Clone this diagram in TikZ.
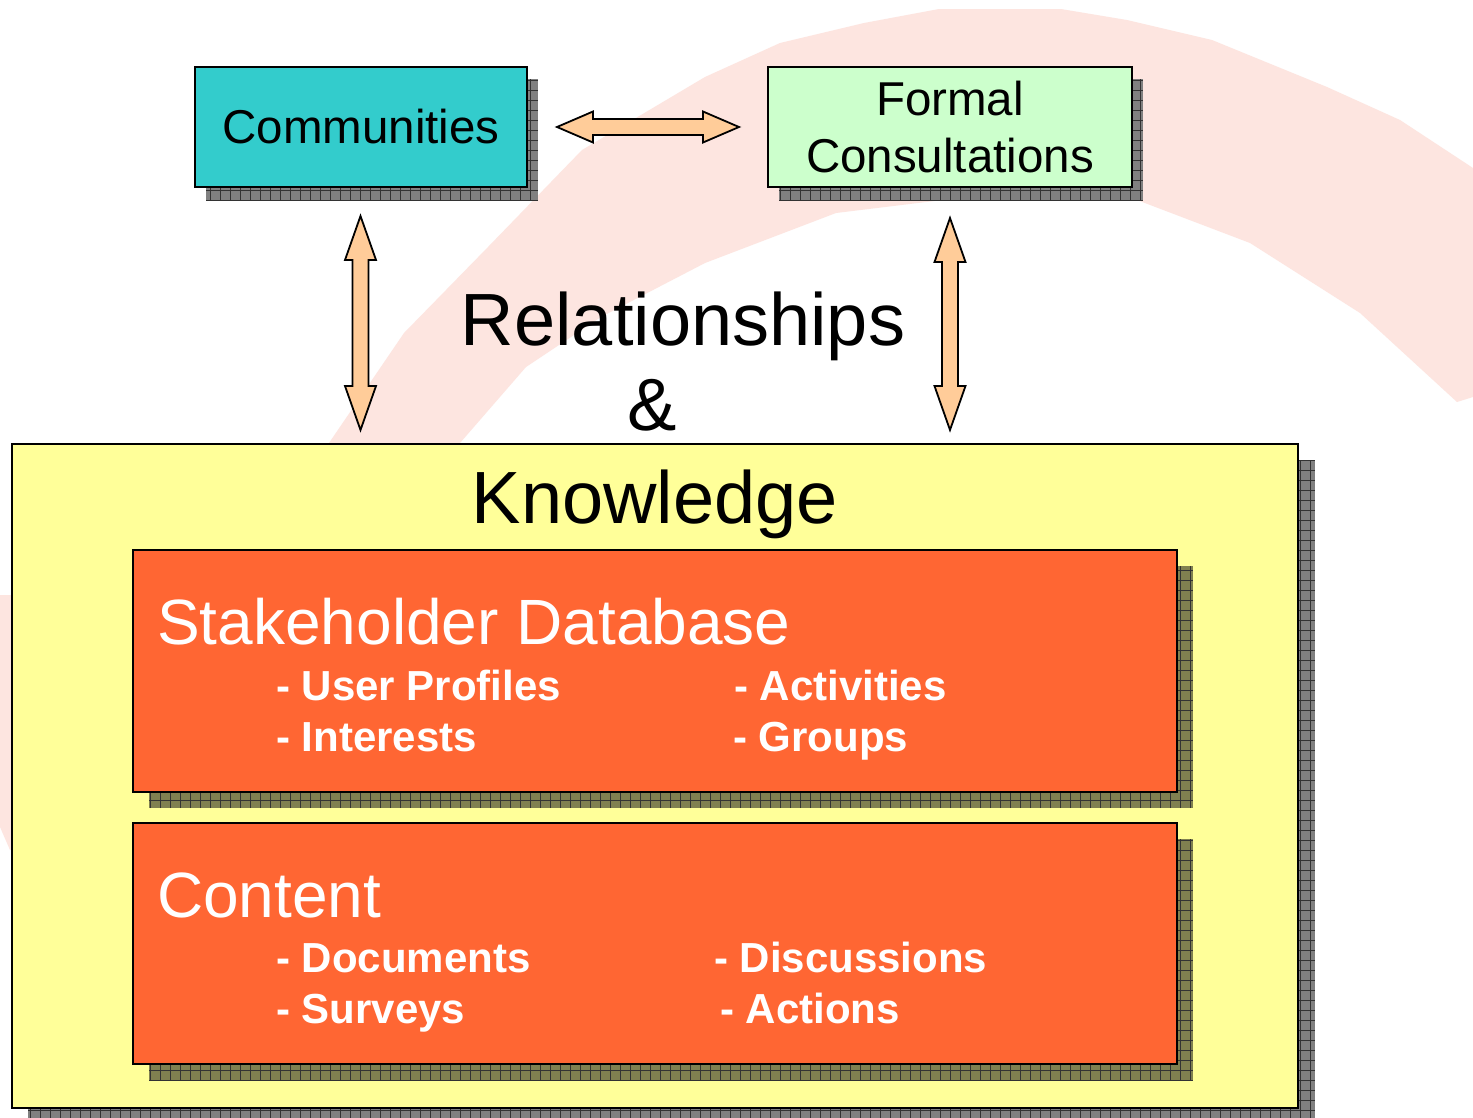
\documentclass[tikz,border=0pt]{standalone}
\usepackage{fontspec}
\setmainfont{Liberation Sans}
\definecolor{pinkband}{RGB}{253,229,224}
\definecolor{commfill}{RGB}{51,204,204}
\definecolor{formfill}{RGB}{204,255,204}
\definecolor{knowfill}{RGB}{255,255,153}
\definecolor{orangefill}{RGB}{255,102,51}
\definecolor{arrowfill}{RGB}{255,204,153}
\definecolor{shadowgray}{RGB}{128,128,128}
\definecolor{shadowolive}{RGB}{128,128,80}
\newcommand\gridshadow[5]{%
  \fill[#5] (#1,#2) rectangle (#3,#4);
  \begin{scope}
    \clip (#1,#2) rectangle (#3,#4);
    \draw[black!80, line width=0.8pt] (#1,#2) grid[step=10pt] (#3,#4);
  \end{scope}}
\begin{document}
\begin{tikzpicture}[x=1pt,y=-1pt,
  box/.style={draw=black, line width=2pt, inner sep=0pt},
  barrow/.style={draw=black, line width=1.8pt, fill=arrowfill, line join=miter},
  toptext/.style={font=\fontsize{47.5}{57}\selectfont},
  bigtext/.style={font=\fontsize{74}{80}\selectfont, inner sep=0pt},
  headtext/.style={font=\fontsize{64}{70}\selectfont, text=white, inner sep=0pt},
  itemtext/.style={font=\bfseries\fontsize{42}{50}\selectfont, text=white, inner sep=0pt}]
\useasboundingbox (0,0) rectangle (1473,1117);
\fill[white] (0,0) rectangle (1473,1117);
% background band
\fill[pinkband] (0,595) -- (200,595) -- (329,443) -- (404,333) -- (488,247) -- (582,150)
  -- (705,77) -- (780,43) -- (864,23) -- (939,9) -- (1061,9) -- (1127,20) -- (1212,40)
  -- (1327,87) -- (1400,120) -- (1473,168) -- (1473,397) -- (1457,402) -- (1360,313)
  -- (1250,243) -- (1137,200) -- (1000,193) -- (836,213) -- (705,263) -- (601,317)
  -- (526,367) -- (460,443) -- (300,700) -- (10,850) -- (0,827) -- cycle;
% top boxes
\gridshadow{206}{79}{538}{200}{shadowgray}
\node[box, fill=commfill, minimum width=332pt, minimum height=120pt, toptext] (comm) at (361,127) {Communities};
\gridshadow{779}{79}{1143}{200}{shadowgray}
\node[box, fill=formfill, minimum width=364pt, minimum height=120pt, align=center, toptext] (formal) at (950,127) {Formal\\Consultations};
% knowledge box
\gridshadow{28}{460}{1315}{1125}{shadowgray}
\node[box, fill=knowfill, minimum width=1286pt, minimum height=664pt] (know) at (655,776) {};
\gridshadow{149}{566}{1193}{808}{shadowolive}
\node[box, fill=orangefill, minimum width=1044pt, minimum height=242pt] (sdbbox) at (655,671) {};
\gridshadow{149}{839}{1193}{1080}{shadowolive}
\node[box, fill=orangefill, minimum width=1044pt, minimum height=241pt] (contbox) at (655,943.5) {};
% arrows
\coordinate (h1) at (557,127);
\coordinate (h2) at (739,127);
\draw[barrow] (h1) -- (593,111.5) -- (593,119) -- (703,119) -- (703,111.5) -- (h2)
  -- (703,142.5) -- (703,135) -- (593,135) -- (593,142.5) -- cycle;
\coordinate (l1) at (360.5,216);
\coordinate (l2) at (360.5,430);
\draw[barrow] (l1) -- (376,260) -- (368.5,260) -- (368.5,386) -- (376,386) -- (l2)
  -- (345,386) -- (352.5,386) -- (352.5,260) -- (345,260) -- cycle;
\coordinate (r1) at (950,218);
\coordinate (r2) at (950,430);
\draw[barrow] (r1) -- (965.5,262) -- (958,262) -- (958,386) -- (965.5,386) -- (r2)
  -- (934.5,386) -- (942,386) -- (942,262) -- (934.5,262) -- cycle;
% texts
\node[bigtext, anchor=base] (rel) at (683,345) {Relationships};
\node[bigtext, anchor=base] (amp) at (652,430) {\&};
\node[bigtext, anchor=base] (kn) at (655,523) {Knowledge};
\node[headtext, anchor=base west] (sdb) at (157,644) {Stakeholder Database};
\node[itemtext, anchor=base west] (i1) at (276,700) {- User Profiles};
\node[itemtext, anchor=base west] (i2) at (276,751) {- Interests};
\node[itemtext, anchor=base west] (i3) at (734,700) {- Activities};
\node[itemtext, anchor=base west] (i4) at (733,751) {- Groups};
\node[headtext, anchor=base west] (cont) at (157,917) {Content};
\node[itemtext, anchor=base west] (c1) at (276,972) {- Documents};
\node[itemtext, anchor=base west] (c2) at (276,1023) {- Surveys};
\node[itemtext, anchor=base west] (c3) at (714,972) {- Discussions};
\node[itemtext, anchor=base west] (c4) at (720,1023) {- Actions};
\end{tikzpicture}
\end{document}
